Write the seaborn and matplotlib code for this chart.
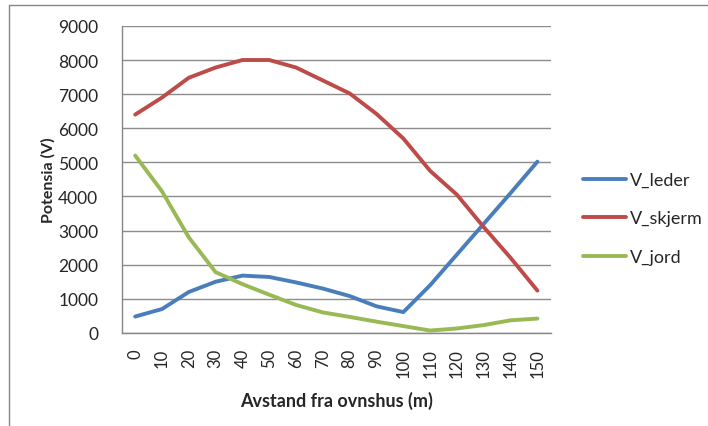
import pandas as pd
import numpy as np
import matplotlib.pyplot as plt
import seaborn as sns
from matplotlib.lines import Line2D

# Data
avstand = ["0", "10", "20", "30", "40", "50", "60", "70", "80", "90",
           "100", "110", "120", "130", "140", "150"]
v_leder = [480, 700, 1200, 1500, 1680, 1640, 1480, 1300, 1080, 780,
           610, 1400, 2300, 3200, 4100, 5020]
v_skjerm = [6400, 6900, 7480, 7780, 8000, 8000, 7780, 7400, 7020, 6420,
            5700, 4750, 4050, 3100, 2200, 1240]
v_jord = [5200, 4150, 2800, 1780, 1430, 1120, 820, 600, 470, 330,
          200, 70, 130, 230, 370, 420]

series_names = ["V_leder", "V_skjerm", "V_jord"]
colors = ["#4A7EBB", "#BE4B48", "#98B954"]

df = pd.DataFrame({"Avstand": avstand, "V_leder": v_leder,
                   "V_skjerm": v_skjerm, "V_jord": v_jord})
long_df = df.melt(id_vars="Avstand", var_name="Serie", value_name="Potensial")

sns.set_style("white")
plt.rcParams["font.family"] = ["Lato", "DejaVu Sans"]

fig = plt.figure(figsize=(7.08, 4.27), dpi=100)
ax = fig.add_axes([0.172, 0.218, 0.606, 0.719])

sns.lineplot(data=long_df, x="Avstand", y="Potensial", hue="Serie",
             hue_order=series_names, palette=colors, linewidth=2.8,
             sort=False, legend=False, ax=ax)

ax.set_ylim(0, 9000)
ax.set_yticks(np.arange(0, 9001, 1000))
ax.set_xlim(-0.5, len(avstand) - 0.5)
ax.set_xticks(range(len(avstand)))
ax.set_xticklabels(avstand, rotation=90, fontsize=12)
ax.set_xticks(np.arange(-0.5, len(avstand)), minor=True)
ax.tick_params(axis="x", which="major", length=0, pad=11)
ax.tick_params(axis="x", which="minor", length=5, color="#868686", width=1)
ax.tick_params(axis="y", length=5, color="#868686", width=1, labelsize=12.5, pad=12)

ax.grid(axis="y", color="#8C8C8C", linewidth=1)
ax.set_axisbelow(True)
for side in ["top", "right"]:
    ax.spines[side].set_visible(False)
for side in ["left", "bottom"]:
    ax.spines[side].set_color("#868686")
    ax.spines[side].set_linewidth(1)

ax.set_xlabel("Avstand fra ovnshus (m)", fontsize=13, fontweight="bold", labelpad=10)
ax.set_ylabel("Potensia (V)", fontsize=11.5, fontweight="bold", labelpad=2)

handles = [Line2D([], [], color=c, linewidth=2.8) for c in colors]
fig.legend(handles, series_names, loc="center left",
           bbox_to_anchor=(0.80, 0.486), frameon=False, fontsize=13,
           handlelength=2.4, labelspacing=1.25, handletextpad=0.2)

# outer chart border (top and left visible in the reference)
fig.add_artist(Line2D([9 / 708, 1.0], [1 - 6 / 427, 1 - 6 / 427],
                      color="#868686", linewidth=1))
fig.add_artist(Line2D([9 / 708, 9 / 708], [0.0, 1 - 6 / 427],
                      color="#868686", linewidth=1))

fig.savefig("out.png", dpi=100)
